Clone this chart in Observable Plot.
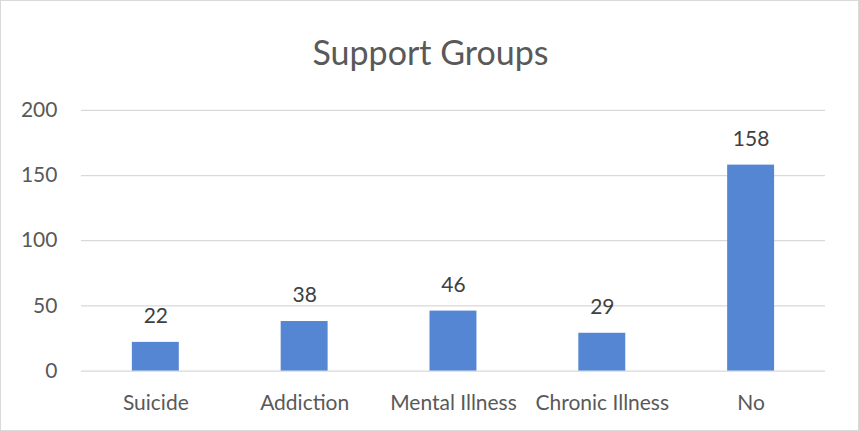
<!DOCTYPE html>
<html>
<head>
<meta charset="utf-8">
<script src="https://cdn.jsdelivr.net/npm/d3@7"></script>
<script src="https://cdn.jsdelivr.net/npm/@observablehq/plot@0.6"></script>
<style>
  html, body { margin: 0; padding: 0; background: #fff; }
  #wrap { position: relative; width: 857px; height: 429px; border: 1px solid #d9d9d9; overflow: hidden; font-family: Lato, "Open Sans", sans-serif; }
  #title { position: absolute; left: 0; width: 859px; top: 31px; text-align: center; font-size: 34px; line-height: 40px; color: #595959; font-family: Lato, sans-serif; }
  #chart { position: absolute; left: -1px; top: -1px; }
</style>
</head>
<body>
<div id="wrap">
  <div id="title">Support Groups</div>
  <div id="chart"></div>
</div>
<script>
const categories = ["Suicide", "Addiction", "Mental Illness", "Chronic Illness", "No"];
const counts = [22, 38, 46, 29, 158];
const yTicks = [0, 50, 100, 150, 200];

const data = categories.map((c, i) => ({category: c, count: counts[i]}));

const chart = Plot.plot({
  width: 859,
  height: 431,
  marginTop: 110,
  marginBottom: 60,
  marginLeft: 81,
  marginRight: 33,
  style: {fontFamily: "Lato, sans-serif", fontSize: "21px", color: "#595959", background: "transparent"},
  x: {domain: categories, paddingInner: 0.686, paddingOuter: 0.343, label: null},
  y: {domain: [0, 200], label: null},
  marks: [
    Plot.gridY(yTicks, {stroke: "#d9d9d9", strokeOpacity: 1, strokeWidth: 1.3}),
    Plot.barY(data, {x: "category", y: "count", fill: "#5586d3"}),
    Plot.text(data, {x: "category", y: "count", text: d => String(d.count), dy: -26, fill: "#404040", fontSize: 21}),
    Plot.axisX({tickSize: 0, tickPadding: 24, fontSize: 21}),
    Plot.axisY(yTicks, {tickSize: 0, tickPadding: 24, fontSize: 21})
  ]
});
document.getElementById("chart").appendChild(chart);
</script>
</body>
</html>
